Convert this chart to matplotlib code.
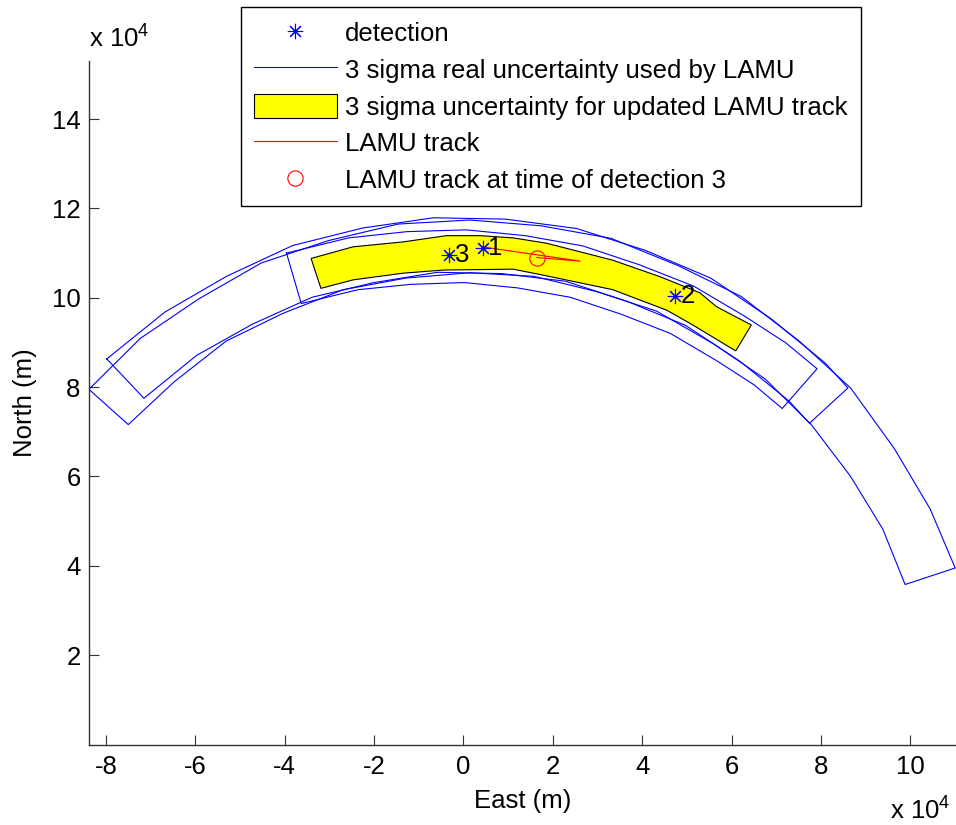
import numpy as np
import matplotlib
matplotlib.use('Agg')
import matplotlib.pyplot as plt

plt.rcParams['font.family'] = ['Liberation Sans', 'DejaVu Sans']
plt.rcParams['mathtext.fontset'] = 'custom'
plt.rcParams['mathtext.rm'] = 'Liberation Sans'
plt.rcParams['axes.unicode_minus'] = False

FS = 18.5

# all positions in units of 1e4 m (East, North)

# 3 sigma real uncertainty regions used by LAMU (outer / inner edge, west to east)
reg1_outer_x = [-8.38, -7.23, -5.93, -4.52, -3.02, -1.46, 0.14, 1.74, 3.30, 4.80, 6.21, 7.51, 8.66, 9.64, 10.44, 11.00]
reg1_outer_y = [7.95, 9.09, 9.97, 10.78, 11.28, 11.65, 11.74, 11.61, 11.33, 10.72, 10.03, 9.03, 7.98, 6.62, 5.27, 3.95]
reg1_inner_x = [-7.50, -6.47, -5.31, -4.04, -2.69, -1.29, 0.14, 1.57, 2.97, 4.32, 5.59, 6.75, 7.78, 8.66, 9.38, 9.88]
reg1_inner_y = [7.16, 8.12, 9.03, 9.65, 10.18, 10.44, 10.56, 10.48, 10.14, 9.70, 8.97, 8.18, 7.16, 6.00, 4.82, 3.58]

reg2_outer_x = [-7.98, -6.68, -5.30, -3.82, -2.26, -0.67, 0.94, 2.53, 4.07, 5.53, 6.88, 8.09, 8.60]
reg2_outer_y = [8.63, 9.68, 10.48, 11.17, 11.56, 11.79, 11.76, 11.55, 11.06, 10.44, 9.53, 8.54, 7.98]
reg2_inner_x = [-7.15, -5.97, -4.72, -3.39, -2.00, -0.58, 0.86, 2.28, 3.66, 4.97, 6.18, 7.28, 7.74]
reg2_inner_y = [7.75, 8.71, 9.41, 10.01, 10.34, 10.57, 10.54, 10.37, 9.92, 9.38, 8.58, 7.69, 7.19]

reg3_outer_x = [-3.96, -2.57, -1.26, 0.06, 1.38, 2.67, 3.93, 5.15, 6.30, 7.21, 7.91]
reg3_outer_y = [11.00, 11.34, 11.48, 11.52, 11.39, 11.16, 10.74, 10.26, 9.58, 8.99, 8.41]
reg3_inner_x = [-3.63, -2.36, -1.18, 0.02, 1.21, 2.39, 3.53, 4.63, 5.68, 6.50, 7.13]
reg3_inner_y = [9.87, 10.18, 10.30, 10.34, 10.22, 10.01, 9.63, 9.20, 8.58, 8.05, 7.52]

# 3 sigma uncertainty for the updated LAMU track
upd_top_x = [-3.41, -2.47, -1.35, -0.38, 0.37, 1.11, 1.86, 3.34, 4.40, 5.29, 5.66, 6.44]
upd_top_y = [10.88, 11.14, 11.25, 11.39, 11.39, 11.34, 11.22, 10.84, 10.47, 10.11, 9.80, 9.39]
upd_bot_x = [-3.19, -2.47, -1.35, -0.45, 1.11, 1.86, 3.34, 4.55, 5.13, 6.09]
upd_bot_y = [10.21, 10.40, 10.55, 10.62, 10.64, 10.49, 10.18, 9.72, 9.39, 8.81]

# detections
det_x = [0.43, 4.73, -0.32]
det_y = [11.12, 10.04, 10.96]
det_labels = ['1', '2', '3']

# LAMU track and its position at time of detection 3
track_x = [0.41, 2.61, 1.64]
track_y = [11.14, 10.82, 10.90]
track_det3_x = [1.64]
track_det3_y = [10.90]

fig = plt.figure(figsize=(9.56, 8.25), dpi=100)
ax = fig.add_axes([89 / 956, 80 / 825, 867 / 956, 684 / 825])


def region(ox, oy, ix, iy):
    xs = list(ox) + list(ix)[::-1] + [ox[0]]
    ys = list(oy) + list(iy)[::-1] + [oy[0]]
    return xs, ys


blue_lines = []
for ox, oy, ix, iy in [(reg1_outer_x, reg1_outer_y, reg1_inner_x, reg1_inner_y),
                       (reg2_outer_x, reg2_outer_y, reg2_inner_x, reg2_inner_y),
                       (reg3_outer_x, reg3_outer_y, reg3_inner_x, reg3_inner_y)]:
    xs, ys = region(ox, oy, ix, iy)
    ln, = ax.plot(xs, ys, color='b', lw=0.8)
    blue_lines.append(ln)

upd_x = upd_top_x + upd_bot_x[::-1]
upd_y = upd_top_y + upd_bot_y[::-1]
upd = ax.fill(upd_x, upd_y, facecolor='yellow', edgecolor='k', lw=0.8)[0]

trk, = ax.plot(track_x, track_y, color='r', lw=0.8)
trk3, = ax.plot(track_det3_x, track_det3_y, 'o', mfc='none', mec='r', ms=11, mew=0.8)
det, = ax.plot(det_x, det_y, ls='none', marker=(8, 2, 0), color='b', ms=11, mew=0.8)
for x, y, s in zip(det_x, det_y, det_labels):
    ax.annotate(s, (x, y), xytext=(4, 0), textcoords='offset points',
                va='center', ha='left', fontsize=FS)

ax.set_xlim(-8.378, 11.018)
ax.set_ylim(-0.013, 15.3)
ax.set_xticks(np.arange(-8, 11, 2))
ax.set_yticks(np.arange(2, 15, 2))
ax.tick_params(direction='in', length=7, width=0.8, labelsize=FS, color='#333333')
ax.tick_params(axis='x', pad=7)
ax.tick_params(axis='y', pad=6)
for side in ['top', 'right']:
    ax.spines[side].set_visible(False)
for side in ['left', 'bottom']:
    ax.spines[side].set_color('#333333')
    ax.spines[side].set_linewidth(1.0)

ax.set_xlabel('East (m)', fontsize=FS)
ax.set_ylabel('North (m)', fontsize=FS)
ax.xaxis.set_label_coords(0.5, -0.064)
ax.yaxis.set_label_coords(-0.06, 0.5)

fig.text(89 / 956, 1 - 47 / 825, r'x 10$^{4}$', fontsize=FS, ha='left', va='baseline')
fig.text(890 / 956, 6 / 825, r'x 10$^{4}$', fontsize=FS, ha='left', va='baseline')

leg = ax.legend([det, blue_lines[0], upd, trk, trk3],
                ['detection', '3 sigma real uncertainty used by LAMU',
                 '3 sigma uncertainty for updated LAMU track', 'LAMU track',
                 'LAMU track at time of detection 3'],
                loc='upper left', bbox_to_anchor=(241 / 956, 1 - 7 / 825),
                bbox_transform=fig.transFigure, borderaxespad=0,
                fontsize=FS, numpoints=1, handlelength=3.2, handleheight=1.05,
                handletextpad=0.32, labelspacing=0.43, borderpad=0.52,
                fancybox=False, framealpha=1, edgecolor='k')
leg.get_frame().set_linewidth(1.0)

fig.savefig('out.png', dpi=100)
